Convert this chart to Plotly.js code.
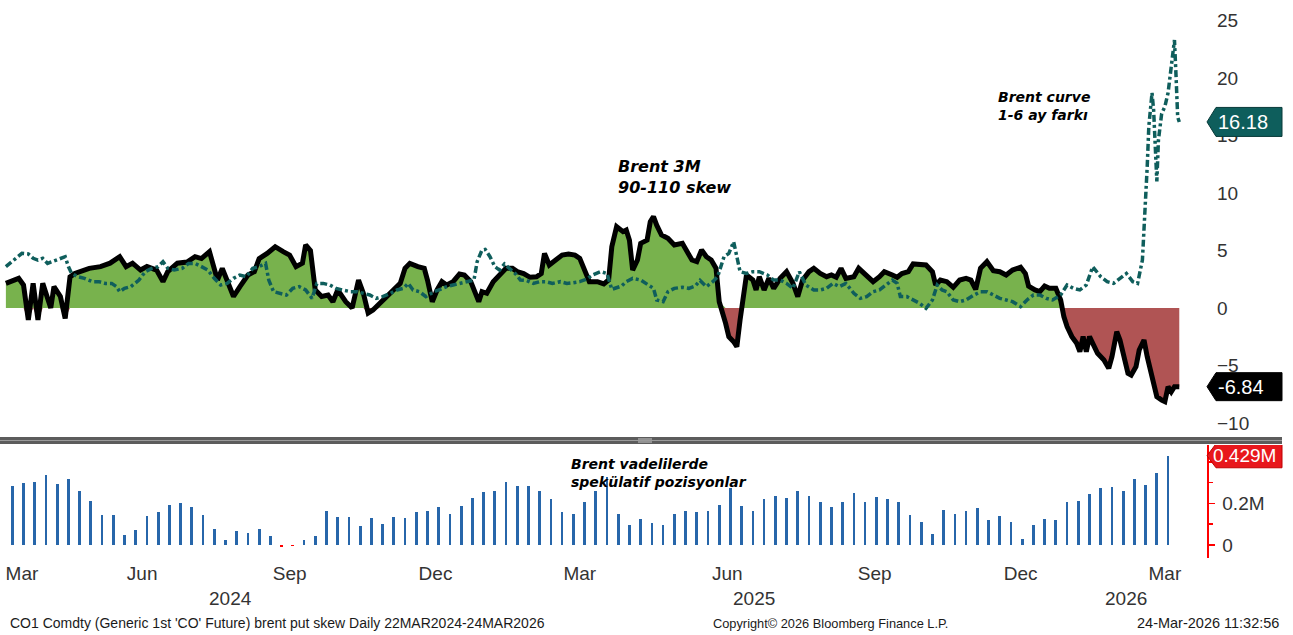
<!DOCTYPE html>
<html><head><meta charset="utf-8">
<script src="https://cdn.plot.ly/plotly-3.0.1.min.js"></script>
<style>html,body{margin:0;padding:0;background:#fff;overflow:hidden}#chart{width:1293px;height:635px}</style>
</head><body><div id="chart"></div><script>
// Daily series: [days since 22-Mar-2024, value]
const SERIES_START = Date.UTC(2024, 2, 22);
const skewSeries = [[0,2.14],[5,2.43],[8,2.58],[11,2.0],[14,-1.04],[17,2.14],[20,-1.04],[23,2.14],[28,0],[30,1.86],[34,1.0],[37,-0.9],[40,2.7],[43,3.0],[46,3.16],[52,3.45],[59,3.6],[65,3.9],[71,4.46],[75,3.6],[79,3.9],[84,3.3],[88,3.6],[94,3.3],[98,2.3],[101,3.16],[107,3.9],[113,4.0],[118,4.46],[122,4.3],[127,4.9],[130,3.6],[132,2.43],[135,3.45],[139,2.14],[142,1.0],[146,1.86],[151,2.87],[155,3.16],[158,4.3],[163,4.75],[168,5.33],[173,4.9],[177,4.6],[181,3.6],[185,3.9],[187,5.48],[190,5.0],[193,1.57],[197,1.0],[201,1.13],[204,0.55],[207,1.57],[212,0.55],[216,0],[220,2.43],[223,1.28],[226,-0.43],[229,-0.17],[233,0.4],[238,1.13],[242,1.57],[246,2.14],[249,3.45],[252,3.88],[257,3.6],[261,3.45],[263,2.43],[266,0.55],[269,1.57],[272,2.29],[275,2.0],[279,2.29],[283,2.96],[286,2.87],[290,2.29],[292,1.57],[295,0.55],[297,1.42],[300,1.28],[304,2.29],[308,2.87],[312,3.45],[316,3.45],[319,3.16],[323,3.0],[327,2.67],[331,2.72],[334,3.0],[336,4.75],[339,3.74],[343,4.17],[347,4.6],[351,4.7],[355,4.6],[358,4.32],[361,3.16],[364,2.29],[369,2.29],[373,2.09],[376,2.43],[378,5.33],[381,7.07],[385,6.64],[387,6.78],[389,5.9],[391,3.3],[394,4.17],[396,5.62],[400,5.9],[402,7.5],[404,7.94],[406,7.2],[409,6.35],[413,6.06],[417,5.48],[422,5.62],[425,4.9],[428,4.17],[431,4.03],[434,5.04],[437,4.46],[440,4.17],[443,3.45],[445,0.55],[449,-1.33],[451,-2.5],[454,-2.93],[456,-3.36],[458,-1.04],[460,1.28],[462,2.87],[466,2.43],[468,1.57],[470,2.72],[473,1.57],[476,2.58],[479,1.71],[483,2.58],[487,3.16],[491,2.14],[494,0.99],[497,2.43],[501,3.16],[504,3.45],[508,3.0],[512,2.72],[515,2.87],[518,2.67],[521,3.45],[524,2.58],[529,2.72],[532,3.45],[537,2.72],[541,2.29],[545,2.72],[548,3.16],[553,2.87],[556,2.67],[559,3.0],[563,3.16],[566,3.83],[570,3.74],[574,3.74],[578,3.16],[580,2.0],[583,2.43],[587,2.29],[591,1.8],[595,2.43],[599,2.58],[602,2.43],[605,1.62],[608,3.45],[612,4.03],[616,3.25],[620,3.16],[624,2.87],[628,3.3],[633,3.54],[636,3.0],[638,1.91],[642,1.57],[645,1.42],[648,1.91],[651,1.71],[655,1.71],[658,0.7],[660,-0.75],[662,-1.62],[665,-2.49],[668,-3.07],[670,-3.8],[672,-2.49],[674,-3.8],[676,-2.49],[679,-3.36],[681,-3.94],[685,-4.52],[688,-5.25],[690,-4.23],[693,-2.06],[695,-2.78],[697,-3.94],[700,-5.68],[702,-5.83],[705,-5.1],[707,-3.65],[710,-2.78],[712,-4.23],[714,-5.39],[716,-6.4],[718,-7.71],[721,-8.0],[723,-8.14],[725,-6.84],[727,-7.28],[729,-6.84],[732,-6.84]];
const curveSeries = [[0,3.6],[6,4.32],[10,4.75],[14,4.7],[17,4.32],[20,4.17],[23,4.32],[26,3.88],[31,4.17],[35,4.32],[37,4.46],[39,3.6],[41,3.0],[45,2.72],[49,2.58],[54,2.29],[58,2.29],[62,2.14],[66,2.14],[69,1.86],[71,1.42],[74,1.71],[78,1.86],[83,2.43],[87,3.16],[91,3.45],[95,3.6],[98,4.03],[101,3.45],[105,3.3],[110,3.45],[114,3.88],[118,3.88],[122,3.6],[126,3.3],[130,2.58],[134,2.0],[138,2.14],[142,2.58],[146,2.87],[150,2.72],[154,3.45],[158,3.6],[162,3.88],[164,2.43],[167,1.42],[171,1.28],[175,1.13],[179,1.71],[183,1.86],[187,1.57],[191,0.84],[194,2.14],[198,2.14],[202,2.0],[206,1.71],[210,1.57],[215,1.42],[219,1.42],[223,1.28],[227,1.13],[231,0.84],[235,0.99],[240,1.28],[244,1.57],[248,1.71],[251,2.14],[254,1.57],[258,1.42],[262,0.99],[267,1.42],[271,1.62],[275,1.86],[279,2.0],[283,2.14],[287,2.29],[292,2.43],[294,4.03],[297,5.04],[299,5.1],[302,4.46],[305,3.6],[308,3.3],[311,3.83],[314,3.45],[318,2.96],[321,2.43],[325,2.38],[329,2.14],[333,2.29],[337,2.29],[341,2.14],[346,2.29],[350,2.14],[354,2.2],[358,2.29],[362,2.49],[366,2.87],[371,3.16],[375,3.0],[378,1.62],[381,1.8],[384,1.91],[387,2.29],[391,2.58],[396,2.43],[400,2.09],[404,1.71],[406,0.7],[410,0.55],[413,1.42],[417,1.71],[422,1.8],[426,1.71],[430,1.91],[433,2.4],[437,1.86],[441,2.29],[444,2.72],[448,4.46],[451,4.75],[454,5.77],[456,4.46],[458,3.16],[462,3.0],[466,3.16],[470,3.16],[475,2.87],[479,2.43],[483,2.43],[487,2.14],[491,1.71],[495,3.16],[499,2.0],[504,1.57],[508,1.57],[512,1.71],[516,2.14],[520,1.86],[524,2.14],[529,1.28],[533,0.84],[537,0.99],[541,1.42],[545,1.57],[549,2.0],[553,2.43],[556,2.14],[558,0.99],[562,0.99],[566,0.7],[570,0.41],[574,-0.03],[578,0.7],[581,2.0],[584,1.57],[587,1.42],[591,0.7],[595,0.55],[599,0.7],[604,1.13],[608,1.42],[612,1.42],[616,1.13],[620,0.84],[624,0.7],[628,0.55],[633,0.12],[637,0.7],[641,1.13],[645,1.13],[649,0.84],[653,0.7],[658,1.13],[662,2.0],[666,1.71],[670,1.57],[674,2.0],[678,3.59],[683,2.72],[687,2.29],[691,2.14],[695,2.58],[699,3.0],[703,2.29],[706,2.14],[709,4.17],[710,6.5],[711,9.1],[712,12.3],[713,15.8],[715,18.7],[716,17.2],[717,14.6],[718,11.0],[719,14.6],[721,16.9],[723,17.5],[725,18.7],[727,21.0],[729,23.3],[730,20.1],[731,16.6],[732,16.18]];

// Weekly speculative positions (millions), Tuesdays from 26-Mar-2024
const COT_START = Date.UTC(2024, 2, 26);
const cotPositions = [0.285,0.298,0.304,0.335,0.292,0.317,0.261,0.212,0.144,0.144,0.048,0.072,0.139,0.159,0.194,0.202,0.183,0.144,0.078,
  0.024,0.067,0.059,0.078,0.043,-0.008,-0.005,0.024,0.043,0.163,0.135,0.135,0.091,0.128,0.103,0.135,0.128,0.159,0.165,
  0.183,0.151,0.188,0.226,0.255,0.261,0.304,0.285,0.285,0.261,0.220,0.157,0.151,0.207,0.261,0.325,0.151,0.096,0.126,
  0.107,0.096,0.151,0.163,0.157,0.163,0.194,0.274,0.188,0.163,0.220,0.237,0.226,0.261,0.237,0.207,0.183,0.207,
  0.250,0.207,0.231,0.220,0.207,0.144,0.109,0.053,0.170,0.151,0.163,0.176,0.120,0.139,0.109,0.029,0.096,0.126,0.120,
  0.208,0.213,0.245,0.274,0.280,0.261,0.317,0.288,0.348,0.429];

const monthTickDates = ['2024-04-01','2024-06-15','2024-09-15','2024-12-15','2025-03-15','2025-06-15','2025-09-15','2025-12-15','2026-03-15'];
const monthTickLabels = ['Mar','Jun','Sep','Dec','Mar','Jun','Sep','Dec','Mar'];
const yearLabels = ['2024','2025','2026'];
const yearLabelDates = ['2024-08-09','2025-07-02','2026-02-19'];
const topTicks = [-10,-5,0,5,10,15,20,25];
const bottomTickVals = [0, 0.2];
const bottomTickText = ['0','0.2M'];

const DAY = 864e5;
const toDate = (base, d) => new Date(base + d * DAY).toISOString().slice(0, 10);
const skewX = skewSeries.map(p => toDate(SERIES_START, p[0]));
const skewY = skewSeries.map(p => p[1]);
const curveX = curveSeries.map(p => toDate(SERIES_START, p[0]));
const curveY = curveSeries.map(p => p[1]);
const cotX = cotPositions.map((v, i) => toDate(COT_START, 7 * i));

const W = 1293, H = 635;
const px = x => x / W;
const py = y => 1 - y / H;

const lastSkew = skewY[skewY.length - 1];
const lastCurve = curveY[curveY.length - 1];
const lastCot = cotPositions[cotPositions.length - 1];

const FONT = 'Liberation Sans, Arial, sans-serif';
const ANNFONT = 'DejaVu Sans, Verdana, sans-serif';

const traces = [
  {x: skewX, y: skewY.map(v => Math.max(v, 0)), type: 'scatter', mode: 'lines', fill: 'tozeroy',
   fillcolor: '#78b24d', line: {width: 0, color: '#78b24d'}, xaxis: 'x', yaxis: 'y', hoverinfo: 'skip'},
  {x: skewX, y: skewY.map(v => Math.min(v, 0)), type: 'scatter', mode: 'lines', fill: 'tozeroy',
   fillcolor: '#b05454', line: {width: 0, color: '#b05454'}, xaxis: 'x', yaxis: 'y', hoverinfo: 'skip'},
  {x: skewX, y: skewY, type: 'scatter', mode: 'lines', name: 'Brent 3M 90-110 skew',
   line: {color: '#000000', width: 5}, xaxis: 'x', yaxis: 'y'},
  {x: curveX, y: curveY, type: 'scatter', mode: 'lines', name: 'Brent curve 1-6',
   line: {color: '#0f5e5c', width: 3.5, dash: '7px,3px,3px,3px'}, xaxis: 'x', yaxis: 'y'},
  {x: cotX, y: cotPositions, type: 'bar', name: 'Spec positions', width: 1.7 * DAY,
   marker: {color: cotPositions.map(v => v < 0 ? '#ff0000' : '#2766aa')}, xaxis: 'x', yaxis: 'y2'}
];

function labelBox(yref, yc, half, color, border) {
  return {type: 'path', xref: 'paper', yref: yref, layer: 'above',
    path: `M ${px(1207)},${yc} L ${px(1216)},${yc + half} L ${px(1282)},${yc + half} L ${px(1282)},${yc - half} L ${px(1216)},${yc - half} Z`,
    fillcolor: color, line: {color: border, width: 1}};
}

const shapes = [
  {type: 'rect', xref: 'paper', yref: 'paper', x0: 0, x1: px(1282), y0: py(444), y1: py(437), fillcolor: '#5c5c5c', line: {width: 0}},
  {type: 'line', xref: 'paper', yref: 'paper', x0: 0, x1: px(1282), y0: py(440.5), y1: py(440.5), line: {color: '#9a9a9a', width: 1}},
  {type: 'line', xref: 'paper', yref: 'paper', x0: px(638), x1: px(652), y0: py(439), y1: py(439), line: {color: '#c8c8c8', width: 1}},
  {type: 'line', xref: 'paper', yref: 'paper', x0: px(638), x1: px(652), y0: py(442), y1: py(442), line: {color: '#c8c8c8', width: 1}},
  labelBox('y', lastCurve, 14.5 / 11.5, '#0e5e5c', '#083a39'),
  labelBox('y', lastSkew, 14 / 11.5, '#000000', '#000000'),
  labelBox('y2', lastCot, 12 / 208, '#e8171c', '#c00000')
];

const annotations = [
  {xref: 'paper', yref: 'paper', x: px(616), y: py(176.5), xanchor: 'left', yanchor: 'middle', align: 'left', showarrow: false,
   text: '<b><i>Brent 3M<br>90-110 skew</i></b>', font: {family: ANNFONT, size: 16, color: '#000'}},
  {xref: 'paper', yref: 'paper', x: px(996), y: py(105.5), xanchor: 'left', yanchor: 'middle', align: 'left', showarrow: false,
   text: '<b><i>Brent curve<br>1-6 ay farkı</i></b>', font: {family: ANNFONT, size: 14, color: '#000'}},
  {xref: 'paper', yref: 'paper', x: px(569), y: py(473), xanchor: 'left', yanchor: 'middle', align: 'left', showarrow: false,
   text: '<b><i>Brent vadelilerde<br>spekülatif pozisyonlar</i></b>', font: {family: ANNFONT, size: 14, color: '#000'}},
  {xref: 'paper', yref: 'y', x: px(1216), y: lastCurve, xanchor: 'left', yanchor: 'middle', showarrow: false,
   text: lastCurve.toFixed(2), font: {family: FONT, size: 20, color: '#ffffff'}},
  {xref: 'paper', yref: 'y', x: px(1216), y: lastSkew, xanchor: 'left', yanchor: 'middle', showarrow: false,
   text: lastSkew.toFixed(2), font: {family: FONT, size: 20, color: '#ffffff'}},
  {xref: 'paper', yref: 'y2', x: px(1211), y: lastCot, xanchor: 'left', yanchor: 'middle', showarrow: false,
   text: lastCot.toFixed(3) + 'M', font: {family: FONT, size: 19, color: '#ffffff'}},
  {xref: 'paper', yref: 'paper', x: px(8), y: py(623), xanchor: 'left', yanchor: 'middle', showarrow: false,
   text: "CO1 Comdty (Generic 1st 'CO' Future) brent put skew Daily 22MAR2024-24MAR2026", font: {family: FONT, size: 14, color: '#1a1a1a'}},
  {xref: 'paper', yref: 'paper', x: px(711), y: py(623), xanchor: 'left', yanchor: 'middle', showarrow: false,
   text: 'Copyright© 2026 Bloomberg Finance L.P.', font: {family: FONT, size: 12.8, color: '#1a1a1a'}},
  {xref: 'paper', yref: 'paper', x: px(1281), y: py(623), xanchor: 'right', yanchor: 'middle', showarrow: false,
   text: '24-Mar-2026 11:32:56', font: {family: FONT, size: 14.5, color: '#1a1a1a'}}
];
yearLabels.forEach((t, i) => annotations.push({xref: 'x', yref: 'paper', x: yearLabelDates[i], y: py(598), xanchor: 'center', yanchor: 'middle',
  showarrow: false, text: t, font: {family: FONT, size: 19, color: '#333'}}));

const layout = {
  width: W, height: H, margin: {l: 0, r: 0, t: 0, b: 0},
  paper_bgcolor: '#ffffff', plot_bgcolor: '#ffffff', showlegend: false,
  font: {family: FONT, color: '#333'},
  xaxis: {type: 'date', range: ['2024-03-18 08:00', '2026-04-10 07:00'], domain: [0, px(1207)], anchor: 'y2',
    showgrid: false, zeroline: false, showline: false, ticks: '', tickmode: 'array',
    tickvals: monthTickDates, ticktext: monthTickLabels, tickfont: {family: FONT, size: 19, color: '#333'}, ticklabelstandoff: 2},
  yaxis: {domain: [py(437), 1], range: [-11.217, 26.783], side: 'right', anchor: 'x', showgrid: false, zeroline: false,
    showline: false, ticks: '', tickmode: 'array', tickvals: topTicks, tickfont: {family: FONT, size: 19, color: '#333'}, ticklabelstandoff: 9},
  yaxis2: {domain: [py(558), py(445)], range: [-0.0625, 0.4808], side: 'right', anchor: 'x', showgrid: false, zeroline: false,
    showline: true, linecolor: '#ff0000', linewidth: 1.5, ticks: 'outside', ticklen: 6, tickwidth: 1.5, tickcolor: '#ff0000',
    tickmode: 'array', tickvals: bottomTickVals, ticktext: bottomTickText, tickfont: {family: FONT, size: 19, color: '#333'},
    minor: {tickmode: 'array', tickvals: [0.1, 0.3, 0.4], ticks: 'outside', ticklen: 4, tickcolor: '#ff0000', tickwidth: 1.5},
    ticklabelstandoff: 4},
  shapes: shapes, annotations: annotations, bargap: 0
};

Plotly.newPlot('chart', traces, layout, {displayModeBar: false, staticPlot: true});
</script></body></html>
